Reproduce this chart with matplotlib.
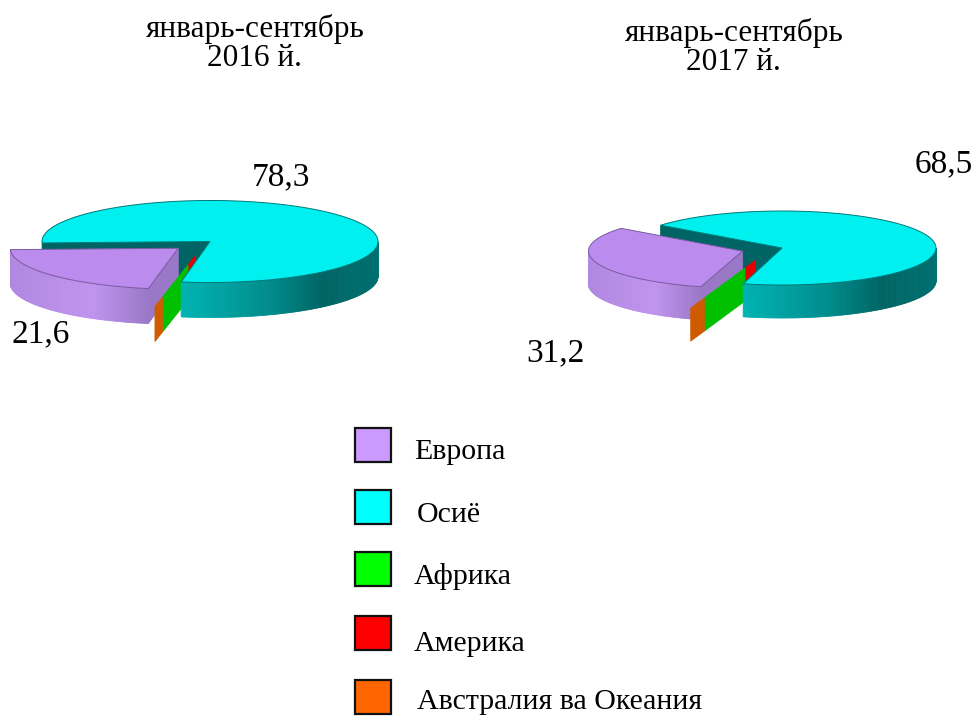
import numpy as np
import matplotlib
matplotlib.use("Agg")
import matplotlib.pyplot as plt
from matplotlib.patches import Polygon, Rectangle

categories = ["Европа", "Осиё", "Африка", "Америка", "Австралия ва Океания"]
values_2016 = [21.6, 78.3, 0.07, 0.01, 0.02]
values_2017 = [31.2, 68.5, 0.21, 0.02, 0.07]
labels_2016 = ["21,6", "78,3"]
labels_2017 = ["31,2", "68,5"]
title_2016 = ["январь-сентябрь", "2016 й."]
title_2017 = ["январь-сентябрь", "2017 й."]
colors = ["#CC99FF", "#00FFFF", "#00FF00", "#FF0000", "#FF6600"]

W, H = 974, 716
plt.rcParams['font.family'] = ['Liberation Serif', 'DejaVu Serif']
fig = plt.figure(figsize=(W / 100, H / 100), dpi=100)
ax = fig.add_axes([0, 0, 1, 1])
ax.set_xlim(0, W)
ax.set_ylim(H, 0)
ax.axis("off")


def h2r(c):
    return tuple(int(c[i:i + 2], 16) / 255 for i in (1, 3, 5))


CYAN_WALL = [(0, h2r("#00B4B4")), (0.45, h2r("#008C8C")), (0.72, h2r("#006464")), (1, h2r("#007070"))]
PURP_WALL = [(0, h2r("#B088E0")), (0.6, h2r("#C094EE")), (1, h2r("#9A78C8"))]


def lerp_stops(stops, t):
    xs = [s[0] for s in stops]
    return tuple(np.interp(t, xs, [s[1][i] for s in stops]) for i in range(3))


def pt(c, rx, ry, ang, r=1.0):
    a = np.radians(ang)
    return np.array([c[0] + r * rx * np.cos(a), c[1] - r * ry * np.sin(a)])


def arc(c, rx, ry, a0, a1, n=160):
    return np.array([pt(c, rx, ry, a) for a in np.linspace(a0, a1, n)])


def wall(c, rx, ry, h, a0, a1, stops):
    """Outer wall, shaded left to right."""
    pts = arc(c, rx, ry, a0, a1, 120)
    x0, x1 = pts[:, 0].min(), pts[:, 0].max()
    for p, q in zip(pts[:-1], pts[1:]):
        col = lerp_stops(stops, ((p[0] + q[0]) / 2 - x0) / (x1 - x0))
        ax.add_patch(Polygon([p, q, q + [0, h], p + [0, h]], closed=True, fc=col, ec=col, lw=0.6))


def face(c, rx, ry, h, ang, r0, r1, col):
    p, q = pt(c, rx, ry, ang, r0), pt(c, rx, ry, ang, r1)
    ax.add_patch(Polygon([p, q, q + [0, h], p + [0, h]], closed=True, fc=col, ec=col, lw=0.6))


def pie3d(values, centre, rx, ry, h, asia_start, eu_explode, small_off, small_ang, small_len):
    eu, asia, af, am, oc = values
    asia_end = asia_start - asia * 3.6          # clockwise from the start of Asia
    eu_start = asia_start + eu * 3.6            # Europe ends where Asia starts
    eu_bis = (asia_start + eu_start) / 2
    eu_c = (centre[0] + eu_explode * rx * np.cos(np.radians(eu_bis)),
            centre[1] - eu_explode * ry * np.sin(np.radians(eu_bis)))
    small_c = (centre[0] + small_off[0], centre[1] + small_off[1])
    share = af / (af + oc)

    # cut face of Asia seen through the gap
    face(centre, rx, ry, h, asia_start, 0, 1, "#006464")
    # Europe
    wall(eu_c, rx, ry, h, max(asia_start, 180), eu_start, PURP_WALL)
    face(eu_c, rx, ry, h, eu_start, 0, 1, "#9A78C8")
    top = np.vstack([[eu_c], arc(eu_c, rx, ry, asia_start, eu_start)])
    ax.add_patch(Polygon(top, closed=True, fc="#BB8CEE", ec="#7A5AA0", lw=0.7))
    # small slices, all edge-on, in front of Europe
    face(small_c, rx, ry, h, small_ang, -0.22, 0, "#E60000")
    face(small_c, rx, ry, h, small_ang, 0, small_len * share, "#00C000")
    face(small_c, rx, ry, h, small_ang, small_len * share, small_len, "#D05A00")
    # Asia
    wall(centre, rx, ry, h, asia_end, 0, CYAN_WALL)
    top = np.vstack([[centre], arc(centre, rx, ry, asia_end, asia_start)])
    ax.add_patch(Polygon(top, closed=True, fc="#00F0F0", ec="#007878", lw=0.7))


pie3d(values_2016, (210, 241.5), 168, 41, 35, 182, 0.25, (-22, 23.5), 259, 1.03)
pie3d(values_2017, (782, 248), 154, 37, 33, 142, 0.27, (-37, 20), 252, 1.14)

TS = 22.5
NS = 24
ax.text(255, 29, title_2016[0], ha="center", va="center", fontsize=TS)
ax.text(254, 59, title_2016[1], ha="center", va="center", fontsize=TS)
ax.text(734, 33, title_2017[0], ha="center", va="center", fontsize=TS)
ax.text(733, 63, title_2017[1], ha="center", va="center", fontsize=TS)

ax.text(41, 334, labels_2016[0], ha="center", va="center", fontsize=NS)
ax.text(281, 177, labels_2016[1], ha="center", va="center", fontsize=NS)
ax.text(556, 353, labels_2017[0], ha="center", va="center", fontsize=NS)
ax.text(944, 164, labels_2017[1], ha="center", va="center", fontsize=NS)

leg_y = [445, 507, 569, 633, 697]
txt_y = [452, 515, 576, 644, 702]
leg_tx = [414, 417, 414, 414, 417]
for cat, col, y, ty, tx in zip(categories, colors, leg_y, txt_y, leg_tx):
    ax.add_patch(Rectangle((355, y - 17), 35.5, 34, fc=col, ec="#111111", lw=1.6))
    ax.text(tx, ty, cat, ha="left", va="center", fontsize=21.5)

fig.savefig("out.png", dpi=100)
